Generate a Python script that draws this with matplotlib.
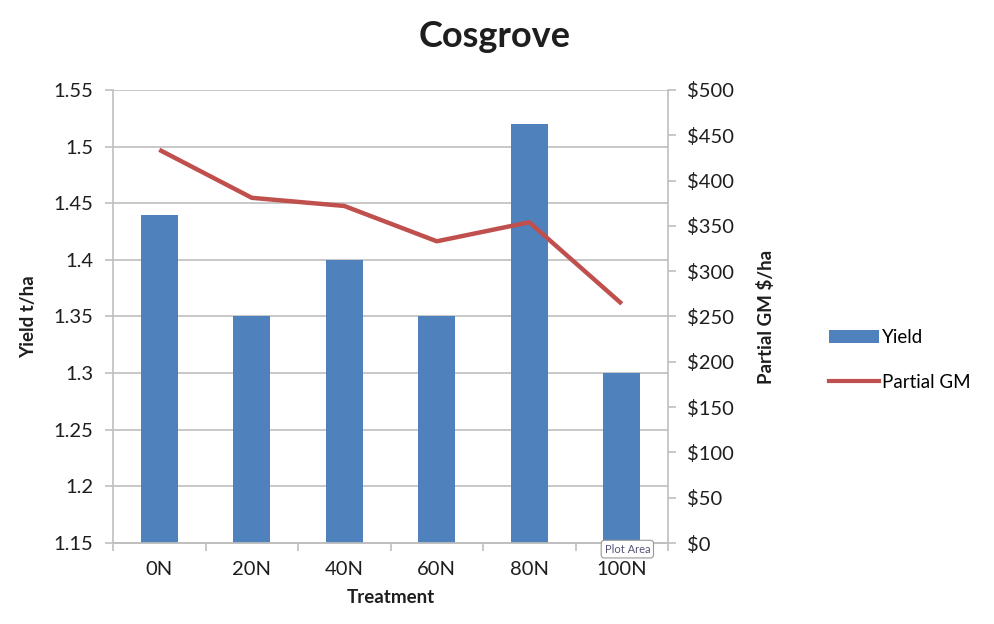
import matplotlib.pyplot as plt
import numpy as np
from matplotlib.lines import Line2D
from matplotlib.patches import Patch
from matplotlib.ticker import FuncFormatter

plt.rcParams['font.family'] = ['Lato', 'DejaVu Sans']

treatments = ['0N', '20N', '40N', '60N', '80N', '100N']
yield_t_ha = [1.44, 1.35, 1.40, 1.35, 1.52, 1.30]
partial_gm = [434, 381, 372, 333, 354, 264]

yield_ticks = [1.15, 1.2, 1.25, 1.3, 1.35, 1.4, 1.45, 1.5, 1.55]
gm_ticks = [0, 50, 100, 150, 200, 250, 300, 350, 400, 450, 500]

bar_color = '#4F81BD'
line_color = '#C0504D'
grid_color = '#BFBFBF'
text_color = '#1E1E1E'

fig = plt.figure(figsize=(9.95, 6.24), dpi=100)
ax = fig.add_axes([0.1136, 0.1298, 0.5578, 0.726])
ax2 = ax.twinx()

x = np.arange(len(treatments))
ax.bar(x, yield_t_ha, width=0.4, color=bar_color, zorder=3)
ax.set_ylim(yield_ticks[0], yield_ticks[-1])
ax.set_yticks(yield_ticks)
ax.set_yticklabels([f'{t:g}' for t in yield_ticks])
ax.set_xlim(-0.5, len(treatments) - 0.5)
ax.set_xticks(x)
ax.set_xticklabels(treatments)
ax.set_xticks(np.arange(-0.5, len(treatments), 1.0), minor=True)
ax.grid(axis='y', color=grid_color, linewidth=1.2, zorder=0)
ax.set_axisbelow(True)

ax2.plot(x, partial_gm, color=line_color, linewidth=3.2, solid_capstyle='butt', zorder=4)
ax2.set_ylim(gm_ticks[0], gm_ticks[-1])
ax2.set_yticks(gm_ticks)
ax2.yaxis.set_major_formatter(FuncFormatter(lambda v, p: f'${v:.0f}'))

for a in (ax, ax2):
    a.spines['top'].set_visible(False)
    for side in ('left', 'right', 'bottom'):
        a.spines[side].set_color(grid_color)
        a.spines[side].set_linewidth(1.2)
    a.tick_params(axis='y', colors=text_color, labelsize=14.5, length=6, width=1.2,
                  color=grid_color, pad=8)
ax.spines['right'].set_visible(False)
ax2.spines['left'].set_visible(False)
ax.tick_params(axis='x', which='major', length=0, labelsize=14.5, pad=13, colors=text_color)
ax.tick_params(axis='x', which='minor', length=6, width=1.2, color=grid_color)

ax.set_ylabel('Yield t/ha', fontsize=13.5, fontweight='bold', labelpad=12, color=text_color)
ax2.set_ylabel('Partial GM $/ha', fontsize=13.5, fontweight='bold', labelpad=16, color=text_color)
ax.set_xlabel('Treatment', fontsize=13.5, fontweight='bold', labelpad=8, color=text_color)

fig.text(0.497, 0.942, 'Cosgrove', ha='center', va='center',
         fontsize=26, fontweight='bold', color=text_color)

handles = [Patch(facecolor=bar_color, edgecolor='none'),
           Line2D([0], [0], color=line_color, linewidth=3)]
fig.legend(handles, ['Yield', 'Partial GM'], loc='center left',
           bbox_to_anchor=(0.816, 0.423), frameon=False, fontsize=13.5,
           handlelength=2.7, handletextpad=0.15, labelspacing=1.45)

# hover tag sitting on the plot corner
fig.text(0.6305, 0.12, 'Plot Area', ha='center', va='center', fontsize=8,
         color='#555577',
         bbox=dict(boxstyle='round,pad=0.3', facecolor='white', edgecolor='#999999',
                   linewidth=0.8))

fig.savefig('out.png', dpi=100)
